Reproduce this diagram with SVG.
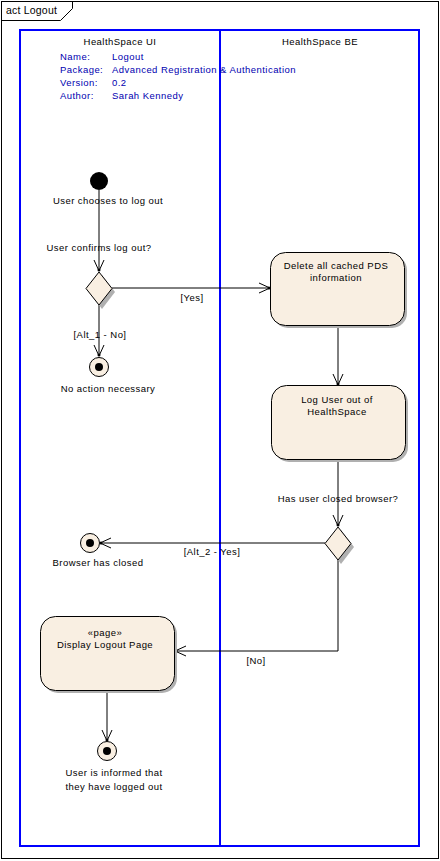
<svg xmlns="http://www.w3.org/2000/svg" width="440" height="861" viewBox="0 0 440 861">
<style>
text{font-family:"Liberation Sans",Arial,sans-serif;font-size:9.5px;fill:#000;letter-spacing:0.45px}
.note{fill:#0000b0;text-anchor:start}
.c{text-anchor:middle}
.act{fill:#f9efe2;stroke:#000;stroke-width:1}
.sh{fill:#b0b0b0}
.ln{fill:none;stroke:#000;stroke-width:1}
.pool{fill:none;stroke:#0000ff;stroke-width:2}
</style>
<defs>
<marker id="arr" markerWidth="14" markerHeight="14" refX="12" refY="6" orient="auto" markerUnits="userSpaceOnUse">
<path d="M1,1 L12,6 L1,11" fill="none" stroke="#000" stroke-width="1"/>
<circle cx="11" cy="6" r="1.5" fill="#000"/>
</marker>
</defs>
<rect width="440" height="861" fill="#fff"/>
<g id="frame">
<rect x="1.5" y="1.5" width="437" height="857" fill="none" stroke="#000"/>
<path d="M1.5,20.5 H60.5 L72.5,8.5 V1.5" fill="none" stroke="#000"/>
<text x="6" y="14" style="font-size:10.5px;letter-spacing:0.2px">act Logout</text>
</g>
<g id="pool">
<rect class="pool" x="20" y="30" width="399" height="816"/>
<line class="pool" x1="220" y1="30" x2="220" y2="846"/>
<text class="c" x="120" y="45">HealthSpace UI</text>
<text class="c" x="320" y="45">HealthSpace BE</text>
</g>
<g id="notes">
<text class="note" x="60" y="60">Name:</text><text class="note" x="112" y="60">Logout</text>
<text class="note" x="60" y="73">Package:</text><text class="note" x="112" y="73">Advanced Registration &amp; Authentication</text>
<text class="note" x="60" y="86">Version:</text><text class="note" x="112" y="86">0.2</text>
<text class="note" x="60" y="99">Author:</text><text class="note" x="112" y="99">Sarah Kennedy</text>
</g>
<g id="connectors">
<line class="ln" x1="99" y1="190" x2="99" y2="271" marker-end="url(#arr)"/>
<text class="c" x="99" y="251">User confirms log out?</text>
<line class="ln" x1="99" y1="305" x2="99" y2="356" marker-end="url(#arr)"/>
<text class="c" x="100" y="338">[Alt_1 - No]</text>
<line class="ln" x1="112" y1="288" x2="270" y2="288" marker-end="url(#arr)"/>
<text class="c" x="192" y="301">[Yes]</text>
<line class="ln" x1="338" y1="325" x2="338" y2="385" marker-end="url(#arr)"/>
<line class="ln" x1="338" y1="460" x2="338" y2="526" marker-end="url(#arr)"/>
<text class="c" x="338" y="502">Has user closed browser?</text>
<line class="ln" x1="325" y1="543" x2="100" y2="543" marker-end="url(#arr)"/>
<text class="c" x="212" y="555">[Alt_2 - Yes]</text>
<polyline class="ln" points="338,560 338,651 175,651" marker-end="url(#arr)"/>
<text class="c" x="256" y="664">[No]</text>
<line class="ln" x1="107" y1="690" x2="107" y2="741" marker-end="url(#arr)"/>
</g>
<g id="start">
<circle cx="99" cy="181" r="9" fill="#000"/>
<text class="c" x="108" y="204">User chooses to log out</text>
</g>
<g id="decision1">
<path class="sh" d="M102,275 L115,292 L102,309 L89,292 Z"/>
<path class="act" d="M99,272 L112,288.5 L99,305 L86,288.5 Z"/>
</g>
<g id="end1">
<circle cx="99" cy="367" r="9.5" fill="#f9efe2" stroke="#000"/>
<circle cx="99" cy="367" r="4" fill="#000"/>
<text class="c" x="108" y="392">No action necessary</text>
</g>
<g id="act1">
<rect class="sh" x="273" y="255" width="134" height="73" rx="15"/>
<rect class="act" x="270.5" y="252.5" width="134" height="73" rx="15"/>
<text class="c" x="336" y="269">Delete all cached PDS</text>
<text class="c" x="336" y="281">information</text>
</g>
<g id="act2">
<rect class="sh" x="274" y="388" width="134" height="74" rx="15"/>
<rect class="act" x="271.5" y="385.5" width="134" height="74" rx="15"/>
<text class="c" x="337" y="403">Log User out of</text>
<text class="c" x="337" y="415">HealthSpace</text>
</g>
<g id="decision2">
<path class="sh" d="M341,530 L354,547 L341,564 L328,547 Z"/>
<path class="act" d="M338,527 L351,543.5 L338,560 L325,543.5 Z"/>
</g>
<g id="end2">
<circle cx="90" cy="543" r="9.5" fill="#f9efe2" stroke="#000"/>
<circle cx="90" cy="543" r="4" fill="#000"/>
<text class="c" x="98" y="566">Browser has closed</text>
</g>
<g id="act3">
<rect class="sh" x="43" y="619" width="134" height="74" rx="15"/>
<rect class="act" x="40.5" y="616.5" width="134" height="74" rx="15"/>
<text class="c" x="105" y="636">«page»</text>
<text class="c" x="105" y="648">Display Logout Page</text>
</g>
<g id="end3">
<circle cx="107" cy="751" r="9.5" fill="#f9efe2" stroke="#000"/>
<circle cx="107" cy="751" r="4" fill="#000"/>
<text class="c" x="114" y="776">User is informed that</text>
<text class="c" x="114" y="790">they have logged out</text>
</g>
</svg>
